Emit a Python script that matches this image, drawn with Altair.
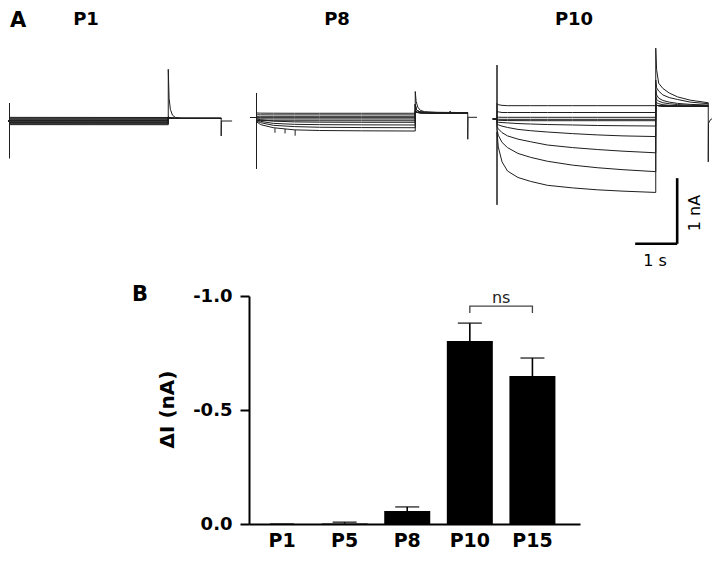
import altair as alt
import pandas as pd

# ---------------- Panel B data ----------------
CATS = ["P1", "P5", "P8", "P10", "P15"]
MEANS = [0.0, -0.002, -0.057, -0.803, -0.649]
ERRS = [0.0, 0.006, 0.018, 0.078, 0.079]
Y_TICKS = [-1.0, -0.5, 0.0]
NS_PAIR = ["P10", "P15"]
NS_LEVEL = -0.956
NS_DROP = -0.925
NS_TEXT_LEVEL = -0.99

# ---------------- Panel A data (time in s, current in nA) ----------------
# P1
P1_HOLD_T = -0.08
P1_ONSET = [0.275, -0.574]
P1_PULSE_T = [0.0, 3.78]
P1_PULSE = [
    [0.056, 0.054], [0.044, 0.042], [0.032, 0.031], [0.019, 0.018],
    [0.008, 0.008], [-0.003, -0.003], [-0.013, -0.014], [-0.024, -0.025],
    [-0.034, -0.035], [-0.045, -0.046], [-0.056, -0.057],
]
P1_TAIL_T = [3.78, 3.80, 3.83, 3.88, 3.95, 4.10, 5.04]
P1_TAILS = [
    [0.06, 0.05, 0.045, 0.042, 0.04, 0.04, 0.04],
    [0.795, 0.35, 0.18, 0.09, 0.055, 0.042, 0.04],
]
P1_TAIL_OF = [0, 0, 0, 0, 0, 0, 0, 0, 0, 0, 1]
P1_END_T = [5.04, 5.045, 5.30]
P1_END_I = [-0.23, 0.0, 0.0]

# P8
P8_HOLD_T = -0.15
P8_ONSET = [0.377, -0.79]
P8_PULSE_T = [0.0, 0.1, 0.4, 0.9, 1.5, 2.5, 3.78]
P8_PULSE = [
    [0.07, 0.067, 0.066, 0.065, 0.065, 0.065, 0.065],
    [0.042, 0.041, 0.04, 0.04, 0.04, 0.04, 0.04],
    [0.013, 0.012, 0.012, 0.012, 0.012, 0.012, 0.012],
    [-0.002, -0.003, -0.003, -0.003, -0.003, -0.003, -0.003],
    [-0.02, -0.022, -0.023, -0.023, -0.023, -0.023, -0.023],
    [-0.045, -0.047, -0.05, -0.05, -0.05, -0.05, -0.05],
    [-0.023, -0.035, -0.055, -0.068, -0.072, -0.074, -0.074],
    [-0.04, -0.06, -0.09, -0.105, -0.11, -0.113, -0.115],
    [-0.054, -0.08, -0.12, -0.14, -0.15, -0.155, -0.157],
    [-0.065, -0.11, -0.157, -0.19, -0.2, -0.205, -0.208],
]
P8_TAIL_T = [3.78, 3.80, 3.84, 3.90, 4.00, 4.30, 4.58, 4.61, 4.64, 5.03]
P8_TAILS = [
    [0.10, 0.085, 0.077, 0.072, 0.07, 0.068, 0.068, 0.068, 0.068, 0.068],
    [0.20, 0.13, 0.10, 0.085, 0.078, 0.074, 0.073, 0.08, 0.073, 0.072],
    [0.40, 0.25, 0.16, 0.11, 0.09, 0.08, 0.078, 0.095, 0.078, 0.075],
]
P8_TAIL_OF = [0, 0, 0, 0, 0, 1, 1, 1, 1, 2]
P8_END_T = [5.03, 5.035, 5.25]
P8_END_I = [-0.335, 0.003, 0.003]
P8_GLITCH_T = [0.44, 0.68, 0.92]
P8_GLITCH_TOP = [-0.165, -0.175, -0.19]
P8_GLITCH_BOTTOM = [-0.235, -0.245, -0.28]

# P10
P10_HOLD_T = -0.10
P10_ONSET = [0.83, -1.32]
P10_PULSE_T = [0.0, 0.03, 0.12, 0.25, 0.5, 0.8, 1.2, 1.8, 2.4, 3.0, 3.78]
P10_PULSE = [
    [0.24, 0.22, 0.21, 0.205, 0.205, 0.205, 0.205, 0.205, 0.205, 0.205, 0.205],
    [0.12, 0.11, 0.10, 0.10, 0.10, 0.10, 0.10, 0.10, 0.10, 0.10, 0.10],
    [0.03, 0.028, 0.026, 0.026, 0.026, 0.026, 0.026, 0.026, 0.026, 0.026, 0.026],
    [-0.003, -0.004, -0.005, -0.005, -0.005, -0.005, -0.005, -0.005, -0.005, -0.005, -0.005],
    [-0.018, -0.02, -0.022, -0.024, -0.025, -0.026, -0.026, -0.026, -0.026, -0.026, -0.026],
    [-0.045, -0.05, -0.055, -0.06, -0.07, -0.077, -0.085, -0.092, -0.1, -0.104, -0.108],
    [-0.07, -0.09, -0.11, -0.13, -0.16, -0.18, -0.2, -0.225, -0.245, -0.26, -0.27],
    [-0.11, -0.15, -0.21, -0.26, -0.31, -0.35, -0.40, -0.44, -0.47, -0.495, -0.52],
    [-0.16, -0.25, -0.36, -0.44, -0.53, -0.59, -0.65, -0.71, -0.75, -0.78, -0.81],
    [-0.2, -0.43, -0.66, -0.8, -0.9, -0.96, -1.02, -1.06, -1.09, -1.11, -1.13],
]
P10_TAIL_T = [3.78, 3.80, 3.85, 3.95, 4.10, 4.30, 4.60, 5.03]
P10_TAILS = [
    [0.22, 0.21, 0.205, 0.2, 0.198, 0.196, 0.195, 0.195],
    [0.27, 0.25, 0.235, 0.22, 0.21, 0.205, 0.2, 0.2],
    [0.34, 0.30, 0.275, 0.25, 0.235, 0.222, 0.212, 0.205],
    [0.45, 0.37, 0.32, 0.285, 0.26, 0.24, 0.225, 0.215],
    [0.60, 0.48, 0.43, 0.37, 0.33, 0.30, 0.26, 0.235],
    [1.09, 0.76, 0.55, 0.47, 0.40, 0.34, 0.29, 0.25],
]
P10_TAIL_OF = [0, 0, 0, 0, 0, 1, 2, 3, 4, 5]
P10_END_T = [5.03, 5.035, 5.07, 5.12, 5.40]
P10_END_I = [-0.66, -0.07, -0.02, 0.005, 0.015]

SCALEBAR_T = [3.29, 4.29]   # 1 s
SCALEBAR_I = [-0.91, -1.92]  # 1 nA

PANEL_TITLES = ["P1", "P8", "P10"]
PANEL_LETTERS = ["A", "B"]
SCALE_LABELS = ["1 nA", "1 s"]

# ---------------- layout (pixels) ----------------
OX, OY = 249, 296            # page position of bar-plot origin
W, H = 331, 228              # bar plot size
PX_S, PX_NA = 42.0, 65.0     # trace scale: px per second, px per nA
T_DOM = [-1.0, 6.0]
I_DOM = [-3.0, 2.0]
PANEL_ANCHORS = [(9.5, 121.0), (256.5, 117.5), (497.0, 119.0)]  # page (t=0, I=0)
FONT = "DejaVu Sans"
INK = "#1e1e1e"


def panel_scales(anchor):
    x0, y0 = anchor
    xs = alt.Scale(domain=T_DOM,
                   range=[x0 - OX + PX_S * T_DOM[0], x0 - OX + PX_S * T_DOM[1]],
                   nice=False, zero=False)
    ys = alt.Scale(domain=I_DOM,
                   range=[y0 - OY - PX_NA * I_DOM[0], y0 - OY - PX_NA * I_DOM[1]],
                   nice=False, zero=False)
    return xs, ys


def build(hold_t, onset, pulse_t, pulse, tail_t, tails, tail_of, end_t, end_i):
    rows = []
    spike = len(pulse) - 1
    for i, vals in enumerate(pulse):
        pts = [(hold_t, 0.0), (0.0, 0.0)]
        if i == spike:
            pts += [(0.0, onset[0]), (0.0, onset[1])]
        pts += list(zip(pulse_t, vals))
        pts += list(zip(tail_t, tails[tail_of[i]]))
        if i == spike:
            pts += list(zip(end_t, end_i))
        for k, (t, v) in enumerate(pts):
            rows.append({"trace": i, "k": k, "t": t, "I": v})
    return pd.DataFrame(rows)


def trace_layer(df, anchor):
    xs, ys = panel_scales(anchor)
    return alt.Chart(df).mark_line(strokeWidth=1, color=INK).encode(
        x=alt.X("t:Q", scale=xs, axis=None),
        y=alt.Y("I:Q", scale=ys, axis=None),
        detail="trace:N",
        order="k:Q",
    )


p1_df = build(P1_HOLD_T, P1_ONSET, P1_PULSE_T, P1_PULSE, P1_TAIL_T, P1_TAILS,
              P1_TAIL_OF, P1_END_T, P1_END_I)
p8_df = build(P8_HOLD_T, P8_ONSET, P8_PULSE_T, P8_PULSE, P8_TAIL_T, P8_TAILS,
              P8_TAIL_OF, P8_END_T, P8_END_I)
p10_df = build(P10_HOLD_T, P10_ONSET, P10_PULSE_T, P10_PULSE, P10_TAIL_T, P10_TAILS,
               P10_TAIL_OF, P10_END_T, P10_END_I)

p1_layer = trace_layer(p1_df, PANEL_ANCHORS[0])

xs8, ys8 = panel_scales(PANEL_ANCHORS[1])
glitch_df = pd.DataFrame({"t": P8_GLITCH_T, "a": P8_GLITCH_TOP, "b": P8_GLITCH_BOTTOM})
p8_layer = alt.layer(
    trace_layer(p8_df, PANEL_ANCHORS[1]),
    alt.Chart(glitch_df).mark_rule(strokeWidth=1, color=INK).encode(
        x=alt.X("t:Q", scale=xs8, axis=None),
        y=alt.Y("a:Q", scale=ys8, axis=None),
        y2="b:Q",
    ),
)

xs10, ys10 = panel_scales(PANEL_ANCHORS[2])
sb_df = pd.DataFrame({"t0": [SCALEBAR_T[0]], "t1": [SCALEBAR_T[1]],
                      "i0": [SCALEBAR_I[0]], "i1": [SCALEBAR_I[1]]})
p10_layer = alt.layer(
    trace_layer(p10_df, PANEL_ANCHORS[2]),
    alt.Chart(sb_df).mark_rule(strokeWidth=2.6, color="black").encode(
        x=alt.X("t0:Q", scale=xs10, axis=None), x2="t1:Q",
        y=alt.Y("i1:Q", scale=ys10, axis=None),
    ),
    alt.Chart(sb_df).mark_rule(strokeWidth=2.6, color="black").encode(
        x=alt.X("t1:Q", scale=xs10, axis=None),
        y=alt.Y("i0:Q", scale=ys10, axis=None), y2="i1:Q",
    ),
)

# ---------------- Panel B ----------------
bar_df = pd.DataFrame({"cat": CATS, "m": MEANS, "e": ERRS})
bar_df["lo"] = bar_df["m"] - bar_df["e"]

xb = alt.Scale(domain=CATS, paddingInner=0.265, paddingOuter=0.2765, align=0.29)
yb = alt.Scale(domain=[-1.0, 0.0], reverse=True, nice=False, zero=False)

x_axis = alt.Axis(title=None, labelAngle=0, ticks=False, tickSize=0, labelPadding=7,
                  labelFont=FONT, labelFontSize=19, labelFontWeight="bold",
                  labelColor="black", domainColor="black", domainWidth=2, grid=False)
y_axis = alt.Axis(values=Y_TICKS, grid=False,
                  labelExpr="datum.value < 0 ? '-' + format(-datum.value, '.1f') : format(datum.value, '.1f')",
                  labelFont=FONT, labelFontSize=18, labelFontWeight="bold",
                  labelColor="black", labelPadding=8,
                  tickSize=9, tickWidth=2, tickColor="black",
                  domainColor="black", domainWidth=2,
                  title="ΔI (nA)", titleFont=FONT, titleFontSize=20,
                  titleFontWeight="bold", titleColor="black", titleAngle=270,
                  titleBaseline="middle", titleAlign="center", titleX=-82, titleY=113)

bars = alt.Chart(bar_df).mark_bar(color="black").encode(
    x=alt.X("cat:N", scale=xb, axis=x_axis),
    y=alt.Y("m:Q", scale=yb, axis=y_axis),
)
err = alt.Chart(bar_df).mark_rule(color="black", strokeWidth=1.6).encode(
    x=alt.X("cat:N", scale=xb), y=alt.Y("m:Q", scale=yb), y2="lo:Q",
)
caps = alt.Chart(bar_df).mark_tick(color="black", size=24, thickness=1.6).encode(
    x=alt.X("cat:N", scale=xb), y=alt.Y("lo:Q", scale=yb),
)
br_df = pd.DataFrame({
    "cat": [NS_PAIR[0], NS_PAIR[0], NS_PAIR[1], NS_PAIR[1]],
    "v": [NS_DROP, NS_LEVEL, NS_LEVEL, NS_DROP],
    "k": [0, 1, 2, 3],
})
bracket = alt.Chart(br_df).mark_line(color="#444", strokeWidth=1.3).encode(
    x=alt.X("cat:N", scale=xb), y=alt.Y("v:Q", scale=yb), order="k:Q",
)
step = W / (len(CATS) - 0.265 + 2 * 0.2765)
ns_txt = alt.Chart(pd.DataFrame({"cat": [NS_PAIR[0]], "v": [NS_TEXT_LEVEL], "s": ["ns"]})).mark_text(
    font=FONT, fontSize=16, color="#222", dx=step / 2, baseline="middle",
).encode(x=alt.X("cat:N", scale=xb), y=alt.Y("v:Q", scale=yb), text="s:N")

bar_layer = alt.layer(bars, err, caps, bracket, ns_txt)


# ---------------- text annotations ----------------
def label(txt, px, py, size, weight="bold", angle=0):
    return alt.Chart(pd.DataFrame({"s": [txt]})).mark_text(
        font=FONT, fontSize=size, fontWeight=weight, color="black",
        align="center", baseline="middle", angle=angle,
    ).encode(text="s:N", x=alt.value(px - OX), y=alt.value(py - OY))


texts = [
    label(PANEL_LETTERS[0], 18, 21, 21),
    label(PANEL_LETTERS[1], 140, 295, 21),
    label(PANEL_TITLES[0], 86, 20, 18),
    label(PANEL_TITLES[1], 337, 20, 18),
    label(PANEL_TITLES[2], 574, 20, 18),
    label(SCALE_LABELS[0], 695, 213, 16, "normal", 270),
    label(SCALE_LABELS[1], 655, 261, 16, "normal"),
]

chart = alt.layer(bar_layer, p1_layer, p8_layer, p10_layer, *texts).resolve_scale(
    x="independent", y="independent"
).properties(
    width=W, height=H,
    padding={"left": OX - 8, "top": OY - 8, "right": 704 - (OX - 8) - W,
             "bottom": 545 - (OY - 8) - H},
    autosize=alt.AutoSizeParams(type="none"),
).configure_view(strokeWidth=0)

chart.save("out.html", embed_options={"renderer": "svg", "actions": False})
